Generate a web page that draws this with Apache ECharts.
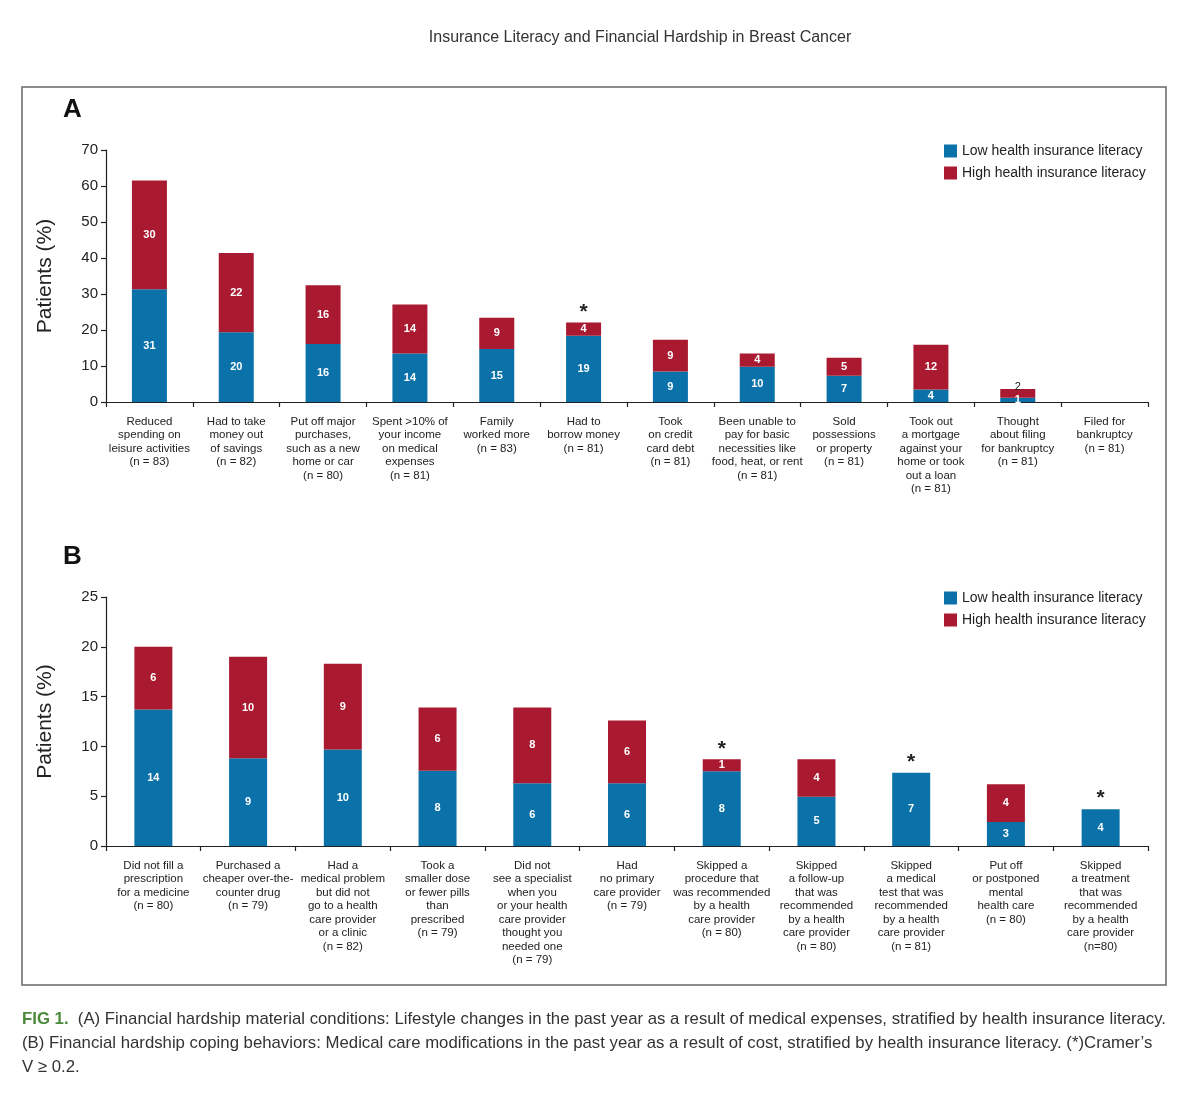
<!DOCTYPE html>
<html>
<head>
<meta charset="utf-8">
<script src="https://cdn.jsdelivr.net/npm/echarts@6/dist/echarts.min.js"></script>
<style>
  html, body { margin: 0; padding: 0; background: #fff; }
  #chart { position: absolute; left: 0; top: 0; width: 1200px; height: 1093px; }
  #caption { position: absolute; left: 22px; top: 1007px; font-family: 'Liberation Sans', Arial, sans-serif; font-size: 17px; line-height: 24px; color: #333; white-space: nowrap; transform-origin: 0 0; }
  #caption .fig { color: #4a8a3a; font-weight: bold; }
</style>
</head>
<body>
<div id="chart"></div>
<div id="caption"><span id="capline1"><span class="fig">FIG 1.</span>&nbsp; (A) Financial hardship material conditions: Lifestyle changes in the past year as a result of medical expenses, stratified by health insurance literacy.</span><br>(B) Financial hardship coping behaviors: Medical care modifications in the past year as a result of cost, stratified by health insurance literacy. (*)Cramer’s<br>V ≥ 0.2.</div>
<script>
// ---------- Panel A data ----------
const categoriesA = [
  "Reduced\nspending on\nleisure activities\n(n = 83)",
  "Had to take\nmoney out\nof savings\n(n = 82)",
  "Put off major\npurchases,\nsuch as a new\nhome or car\n(n = 80)",
  "Spent >10% of\nyour income\non medical\nexpenses\n(n = 81)",
  "Family\nworked more\n(n = 83)",
  "Had to\nborrow money\n(n = 81)",
  "Took\non credit\ncard debt\n(n = 81)",
  "Been unable to\npay for basic\nnecessities like\nfood, heat, or rent\n(n = 81)",
  "Sold\npossessions\nor property\n(n = 81)",
  "Took out\na mortgage\nagainst your\nhome or took\nout a loan\n(n = 81)",
  "Thought\nabout filing\nfor bankruptcy\n(n = 81)",
  "Filed for\nbankruptcy\n(n = 81)"
];
const lowA  = [31.3, 19.4, 16.1, 13.5, 14.7, 18.4, 8.5, 9.8, 7.3, 3.5, 1.2, 0];
const highA = [30.2, 22.0, 16.3, 13.6, 8.7, 3.7, 8.8, 3.7, 5.0, 12.4, 2.4, 0];
const lowLabelsA  = [31, 20, 16, 14, 15, 19, 9, 10, 7, 4, 1, 0];
const highLabelsA = [30, 22, 16, 14, 9, 4, 9, 4, 5, 12, 2, 0];
const sigA = [5];
const outsideHighA = [10];
const ticksA = [0, 10, 20, 30, 40, 50, 60, 70];

// ---------- Panel B data ----------
const categoriesB = [
  "Did not fill a\nprescription\nfor a medicine\n(n = 80)",
  "Purchased a\ncheaper over-the-\ncounter drug\n(n = 79)",
  "Had a\nmedical problem\nbut did not\ngo to a health\ncare provider\nor a clinic\n(n = 82)",
  "Took a\nsmaller dose\nor fewer pills\nthan\nprescribed\n(n = 79)",
  "Did not\nsee a specialist\nwhen you\nor your health\ncare provider\nthought you\nneeded one\n(n = 79)",
  "Had\nno primary\ncare provider\n(n = 79)",
  "Skipped a\nprocedure that\nwas recommended\nby a health\ncare provider\n(n = 80)",
  "Skipped\na follow-up\nthat was\nrecommended\nby a health\ncare provider\n(n = 80)",
  "Skipped\na medical\ntest that was\nrecommended\nby a health\ncare provider\n(n = 81)",
  "Put off\nor postponed\nmental\nhealth care\n(n = 80)",
  "Skipped\na treatment\nthat was\nrecommended\nby a health\ncare provider\n(n=80)"
];
const lowB  = [13.7, 8.8, 9.7, 7.55, 6.3, 6.3, 7.5, 4.95, 7.35, 2.4, 3.7];
const highB = [6.3, 10.2, 8.6, 6.35, 7.6, 6.3, 1.2, 3.75, 0, 3.8, 0];
const lowLabelsB  = [14, 9, 10, 8, 6, 6, 8, 5, 7, 3, 4];
const highLabelsB = [6, 10, 9, 6, 8, 6, 1, 4, 0, 4, 0];
const sigB = [6, 8, 10];
const ticksB = [0, 5, 10, 15, 20, 25];

const LOW_NAME = "Low health insurance literacy";
const HIGH_NAME = "High health insurance literacy";
const BLUE = "#0a72a8";
const RED = "#a91a30";
const FONT = "'Liberation Sans', Arial, Helvetica, sans-serif";
const INK = "#222";

function yAxis(gridIndex, ticks) {
  return {
    type: 'value', gridIndex: gridIndex,
    min: ticks[0], max: ticks[ticks.length - 1], interval: ticks[1] - ticks[0],
    name: 'Patients (%)', nameLocation: 'middle', nameGap: 50, nameRotate: 90,
    nameTextStyle: { fontFamily: FONT, fontSize: 21, color: INK },
    axisLine: { show: true, lineStyle: { color: INK, width: 1.2 } },
    axisTick: { show: true, length: 5, lineStyle: { color: INK, width: 1.2 } },
    axisLabel: { fontFamily: FONT, fontSize: 15, color: INK, margin: 8 },
    splitLine: { show: false }
  };
}
function xAxis(gridIndex, cats) {
  return {
    type: 'category', gridIndex: gridIndex, data: cats,
    axisLine: { lineStyle: { color: INK, width: 1.2 } },
    axisTick: { show: true, length: 5, lineStyle: { color: INK, width: 1.2 } },
    axisLabel: { interval: 0, fontFamily: FONT, fontSize: 11.5, color: INK, lineHeight: 13.5, margin: 13 }
  };
}
function inLabel(labels) {
  return {
    show: true, position: 'inside', color: '#fff', fontFamily: FONT, fontSize: 11, fontWeight: 'bold',
    formatter: p => (labels[p.dataIndex] ? String(labels[p.dataIndex]) : '')
  };
}
function sigData(n, idx) {
  const arr = [];
  for (let i = 0; i < n; i++) arr.push(idx.indexOf(i) >= 0 ? 0 : '-');
  return arr;
}
function panelSeries(gi, low, high, lowL, highL, sig, outside, bw) {
  const highData = high.map((v, i) => outside.indexOf(i) >= 0
    ? { value: v, label: { position: 'top', color: INK, distance: -3, fontWeight: 'normal' } }
    : v);
  return [
    { name: LOW_NAME, type: 'bar', stack: 's' + gi, xAxisIndex: gi, yAxisIndex: gi, barWidth: bw,
      data: low, itemStyle: { color: BLUE }, label: inLabel(lowL) },
    { name: HIGH_NAME, type: 'bar', stack: 's' + gi, xAxisIndex: gi, yAxisIndex: gi, barWidth: bw,
      data: highData, itemStyle: { color: RED }, label: inLabel(highL) },
    { name: 'sig' + gi, type: 'bar', stack: 's' + gi, xAxisIndex: gi, yAxisIndex: gi, barWidth: bw,
      data: sigData(low.length, sig), itemStyle: { color: 'rgba(0,0,0,0)' },
      label: { show: true, position: 'top', distance: 0, formatter: '*', fontFamily: FONT, fontSize: 21, fontWeight: 'bold', color: INK } }
  ];
}
function legend(top) {
  return {
    orient: 'vertical', left: 944, top: top, itemWidth: 13, itemHeight: 13, itemGap: 8, icon: 'rect', padding: 0,
    data: [LOW_NAME, HIGH_NAME], selectedMode: false,
    textStyle: { fontFamily: FONT, fontSize: 14, color: INK }
  };
}

const chart = echarts.init(document.getElementById('chart'), null, { renderer: 'canvas' });
chart.setOption({
  animation: false,
  backgroundColor: '#fff',
  graphic: [
    { type: 'rect', shape: { x: 22, y: 87, width: 1144, height: 898 }, style: { fill: 'none', stroke: '#666', lineWidth: 1.5 } },
    { type: 'text', x: 640, y: 30, style: { text: 'Insurance Literacy and Financial Hardship in Breast Cancer', textAlign: 'center', fontFamily: FONT, fontSize: 16, fill: '#333' } },
    { type: 'text', x: 63, y: 97, style: { text: 'A', fontFamily: FONT, fontSize: 26, fontWeight: 'bold', fill: '#111' } },
    { type: 'text', x: 63, y: 544, style: { text: 'B', fontFamily: FONT, fontSize: 26, fontWeight: 'bold', fill: '#111' } }
  ],
  legend: [legend(144), legend(591)],
  grid: [
    { left: 106, top: 150, width: 1042, height: 252 },
    { left: 106, top: 597, width: 1042, height: 249 }
  ],
  xAxis: [xAxis(0, categoriesA), xAxis(1, categoriesB)],
  yAxis: [yAxis(0, ticksA), yAxis(1, ticksB)],
  series: [].concat(
    panelSeries(0, lowA, highA, lowLabelsA, highLabelsA, sigA, outsideHighA, 35),
    panelSeries(1, lowB, highB, lowLabelsB, highLabelsB, sigB, [], 38)
  )
});

// fit caption width to the frame
(function () {
  const cap = document.getElementById('caption');
  const l1 = document.getElementById('capline1');
  const w = l1.getBoundingClientRect().width;
  if (w > 0) cap.style.transform = 'scaleX(' + (1144 / w) + ')';
})();
</script>
</body>
</html>
